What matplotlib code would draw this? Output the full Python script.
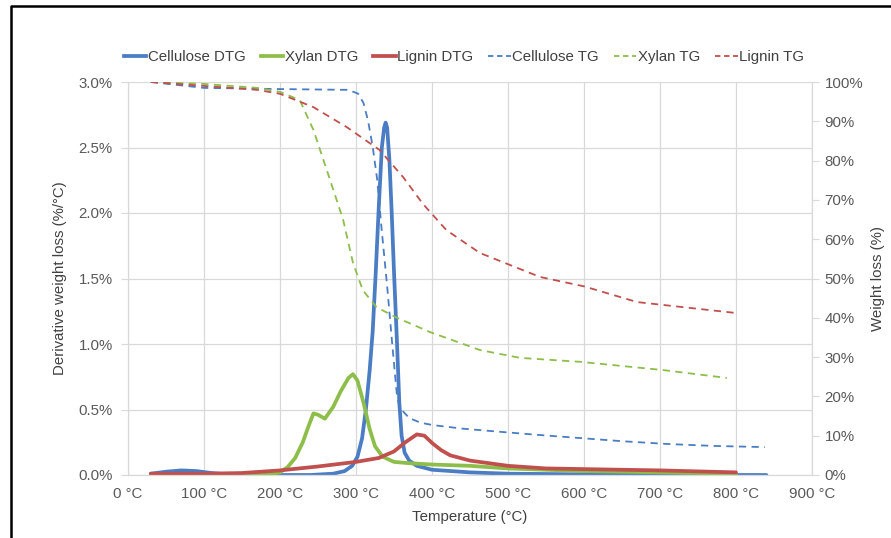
import matplotlib
matplotlib.use("Agg")
import matplotlib.pyplot as plt
from matplotlib.lines import Line2D
from matplotlib.ticker import FuncFormatter, MultipleLocator

plt.rcParams["font.family"] = ["Liberation Sans", "DejaVu Sans"]

# ------------------------------
# Data
# ------------------------------
# DTG curves (%/°C), left axis
cell_dtg_t = [30, 50, 70, 90, 110, 130, 160, 200, 240, 270, 285, 295, 302, 308, 313, 318,
              322, 326, 330, 334, 337, 339, 341, 344, 347, 350, 354, 357, 360, 364, 370,
              380, 400, 450, 500, 600, 700, 840]
cell_dtg_v = [0.01, 0.025, 0.035, 0.03, 0.015, 0.005, 0.0, 0.0, 0.0, 0.01, 0.03, 0.07, 0.14,
              0.28, 0.5, 0.8, 1.1, 1.55, 2.05, 2.5, 2.65, 2.69, 2.65, 2.4, 2.0, 1.55, 1.0,
              0.55, 0.3, 0.17, 0.11, 0.07, 0.04, 0.02, 0.01, 0.005, 0.0, 0.0]

xylan_dtg_t = [30, 100, 150, 190, 200, 210, 220, 230, 238, 244, 250, 259, 270, 280, 290, 296,
               302, 310, 318, 325, 335, 350, 370, 400, 450, 500, 600, 700, 800]
xylan_dtg_v = [0.0, 0.0, 0.005, 0.01, 0.02, 0.06, 0.13, 0.25, 0.38, 0.47, 0.46, 0.43, 0.52,
               0.64, 0.74, 0.77, 0.72, 0.55, 0.35, 0.22, 0.14, 0.10, 0.09, 0.08, 0.07, 0.05,
               0.03, 0.02, 0.01]

lignin_dtg_t = [30, 100, 150, 200, 250, 300, 330, 350, 365, 380, 390, 401, 412, 424, 450, 500,
                550, 600, 700, 800]
lignin_dtg_v = [0.01, 0.01, 0.015, 0.035, 0.065, 0.1, 0.13, 0.18, 0.25, 0.31, 0.3, 0.24, 0.19,
                0.15, 0.11, 0.07, 0.05, 0.045, 0.035, 0.02]

# TG curves (%), right axis
cell_tg_t = [30, 100, 200, 290, 303, 310, 316, 322, 328, 333, 341, 348, 354, 358, 370, 385,
             401, 440, 489, 540, 595, 650, 709, 770, 838]
cell_tg_v = [100, 98.5, 98.2, 98.0, 97.0, 94.6, 90.0, 83.5, 75.0, 64.0, 48.0, 32.6, 20.0, 17.0,
             14.5, 13.3, 12.7, 11.8, 11.0, 10.2, 9.4, 8.6, 7.9, 7.4, 7.1]

xylan_tg_t = [30, 100, 170, 200, 226, 244, 266, 283, 296, 309, 327, 354, 397, 463, 516, 595,
              704, 788]
xylan_tg_v = [100, 99.5, 98.5, 97.5, 95.4, 87.8, 75.0, 65.0, 54.0, 47.0, 42.7, 40.0, 36.4,
              31.8, 29.8, 28.8, 26.7, 24.7]

lignin_tg_t = [30, 100, 170, 200, 244, 288, 331, 362, 388, 419, 463, 542, 600, 670, 740, 801]
lignin_tg_v = [100, 99.0, 98.0, 97.0, 93.6, 88.5, 82.7, 75.8, 69.0, 62.3, 56.5, 50.4, 48.0,
               44.0, 42.5, 41.2]

x_ticks = [0, 100, 200, 300, 400, 500, 600, 700, 800, 900]

BLUE = "#4A7DC4"
GREEN = "#8DBE4A"
RED = "#C0504D"
GRID = "#D9D9D9"
TEXT = "#595959"
FS = 10.8


def main():
    fig = plt.figure(figsize=(8.91, 5.38), dpi=100)
    ax = fig.add_axes([128 / 891, 1 - 475 / 538, (812 - 128) / 891, (475 - 82) / 538])
    ax2 = ax.twinx()

    # DTG (solid, thick)
    ax.plot(cell_dtg_t, cell_dtg_v, color=BLUE, lw=2.7, solid_capstyle="round")
    ax.plot(xylan_dtg_t, xylan_dtg_v, color=GREEN, lw=2.7, solid_capstyle="round")
    ax.plot(lignin_dtg_t, lignin_dtg_v, color=RED, lw=2.7, solid_capstyle="round")

    # TG (dashed, thin)
    ax2.plot(cell_tg_t, cell_tg_v, color=BLUE, lw=1.3, ls=(0, (4, 3)))
    ax2.plot(xylan_tg_t, xylan_tg_v, color=GREEN, lw=1.3, ls=(0, (4, 3)))
    ax2.plot(lignin_tg_t, lignin_tg_v, color=RED, lw=1.3, ls=(0, (4, 3)))

    ax.set_xlim(0, 900)
    ax.set_ylim(0, 3.0)
    ax2.set_ylim(0, 100)

    ax.set_xticks(x_ticks)
    ax.set_xticklabels([f"{t} °C" for t in x_ticks])
    ax.yaxis.set_major_locator(MultipleLocator(0.5))
    ax.yaxis.set_major_formatter(FuncFormatter(lambda v, p: f"{v:.1f}%"))
    ax2.yaxis.set_major_locator(MultipleLocator(10))
    ax2.yaxis.set_major_formatter(FuncFormatter(lambda v, p: f"{v:.0f}%"))

    ax.grid(True, color=GRID, lw=0.9)
    ax.set_axisbelow(True)

    for a in (ax, ax2):
        a.spines["top"].set_visible(False)
        for s in ("left", "right", "bottom"):
            a.spines[s].set_color(GRID)
            a.spines[s].set_linewidth(0.9)
    ax.spines["right"].set_visible(False)
    ax2.spines["left"].set_visible(False)
    ax2.spines["bottom"].set_visible(False)

    ax.tick_params(axis="x", length=0, labelsize=FS, colors=TEXT, pad=9)
    ax.tick_params(axis="y", length=5, color=GRID, labelsize=FS, labelcolor=TEXT, pad=6)
    ax2.tick_params(axis="y", length=5, color=GRID, labelsize=FS, labelcolor=TEXT, pad=4)

    ax.set_xlabel("Temperature (°C)", fontsize=FS, color="#404040", labelpad=6)
    ax.set_ylabel("Derivative weight loss (%/°C)", fontsize=FS, color="#404040", labelpad=8)
    ax2.set_ylabel("Weight loss (%)", fontsize=FS, color="#404040", rotation=90, labelpad=6)

    handles = [
        Line2D([], [], color=BLUE, lw=2.7),
        Line2D([], [], color=GREEN, lw=2.7),
        Line2D([], [], color=RED, lw=2.7),
        Line2D([], [], color=BLUE, lw=1.3, ls=(0, (3, 2))),
        Line2D([], [], color=GREEN, lw=1.3, ls=(0, (3, 2))),
        Line2D([], [], color=RED, lw=1.3, ls=(0, (3, 2))),
    ]
    labels = ["Cellulose DTG", "Xylan DTG", "Lignin DTG",
              "Cellulose TG", "Xylan TG", "Lignin TG"]
    leg = fig.legend(handles, labels, loc="center", bbox_to_anchor=(464 / 891, 1 - 57 / 538),
                     ncol=6, frameon=False, fontsize=FS, handlelength=1.5,
                     handletextpad=0.1, columnspacing=1.0, borderpad=0)
    for t in leg.get_texts():
        t.set_color("#404040")

    # black frame on the left and top edges
    fig.add_artist(Line2D([11 / 891, 11 / 891, 1.0], [0.0, 1 - 6 / 538, 1 - 6 / 538],
                          transform=fig.transFigure, color="black", lw=1.8))

    fig.savefig("out.png", dpi=100)


if __name__ == "__main__":
    main()
